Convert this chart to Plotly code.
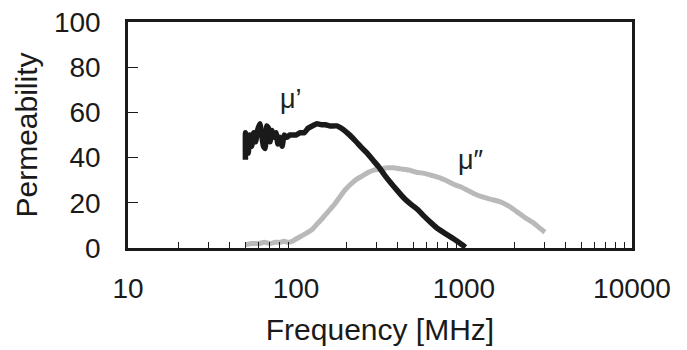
import plotly.graph_objects as go

# mu' (real part)
freq_real = [50, 50, 50.5, 51, 52, 53, 54.5, 56, 57.5, 59, 61, 62.5, 64, 65.5, 67, 68.5, 70, 72,
             74, 76, 78, 80, 82.7, 85, 88, 92, 96, 100, 106, 112, 118,
             125, 133, 142, 150, 160, 175, 190, 205, 225, 245, 265, 290, 310, 335, 365, 400, 440, 480,
             530, 580, 640, 700, 770, 850, 920, 980, 1020]
mu_real = [39, 51, 47, 50, 42, 50, 45, 51, 47, 52, 55, 50, 45, 44, 54, 53, 47, 52,
           49, 51, 46, 49, 45, 50, 49, 50, 50, 50, 51, 51, 53,
           54, 55, 54.5, 54.5, 54, 54, 52.5, 50.5, 47.5, 44.5, 42, 38.5, 36, 32.5, 29, 25.5, 22, 19.5,
           17, 14, 11, 8.5, 6.5, 4.5, 2.8, 1.3, 0.3]

# mu'' (imaginary part)
freq_imag = [50, 55, 60, 65, 70, 75, 80, 85, 90, 95, 100, 106, 112, 118, 126, 135, 145, 155, 166, 180,
             195, 210, 230, 250, 270, 290, 320, 350, 380, 420, 470, 520, 580, 650, 720, 800, 880, 960,
             1050, 1150, 1300, 1450, 1630, 1850, 2070, 2300, 2600, 2800, 3030]
mu_imag = [1.5, 2, 2, 2.5, 2, 2.5, 2.5, 3, 2.5, 3, 4, 5, 6, 7, 8.5, 11, 13.5, 16, 18.5, 22,
           25.5, 28, 30.5, 32, 33.5, 34.5, 35, 35.5, 35.5, 35, 34.5, 33.5, 33, 32, 31, 29.5, 28, 27,
           25.5, 24, 22.5, 21.5, 20.5, 18.5, 16, 13.5, 11, 9, 7]

x_tickvals = [10, 100, 1000, 10000]
x_ticktext = ["10", "100", "1000", "10000"]
x_minor = [m * d for d in (10, 100, 1000) for m in range(2, 10)]
y_tickvals = [0, 20, 40, 60, 80, 100]

FONT = "Liberation Sans, Arial, sans-serif"

fig = go.Figure()
fig.add_trace(go.Scatter(x=freq_imag, y=mu_imag, mode="lines",
                         line=dict(color="#b9b9b9", width=5, shape="spline", smoothing=0.6),
                         showlegend=False))
fig.add_trace(go.Scatter(x=freq_real, y=mu_real, mode="lines",
                         line=dict(color="#1a1a1a", width=5.5, shape="spline", smoothing=0.4),
                         showlegend=False))

fig.add_annotation(x=1.97, y=66, xref="x", yref="y", text="μ’", showarrow=False,
                   font=dict(size=27, color="#222", family=FONT))
fig.add_annotation(x=3.04, y=39, xref="x", yref="y", text="μ″", showarrow=False,
                   font=dict(size=27, color="#222", family=FONT))

fig.update_layout(
    width=687, height=350,
    margin=dict(l=128, r=55, t=22, b=102),
    paper_bgcolor="white", plot_bgcolor="white",
    font=dict(family=FONT, color="#1a1a1a"),
    xaxis=dict(type="log", range=[1, 4], tickmode="array", tickvals=x_tickvals,
               ticktext=x_ticktext, ticks="", showgrid=False, zeroline=False,
               showline=True, linecolor="#1a1a1a", linewidth=2.5, mirror=True,
               tickfont=dict(size=28), ticklabelstandoff=14, automargin=False,
               minor=dict(tickmode="array", tickvals=x_minor, ticks="inside",
                          ticklen=6, tickwidth=1, tickcolor="#1a1a1a", showgrid=False),
               title=dict(text="Frequency [MHz]", font=dict(size=30), standoff=16)),
    yaxis=dict(range=[0, 100], tickmode="array", tickvals=y_tickvals, ticks="inside",
               ticklen=10, tickwidth=1, tickcolor="#1a1a1a", showgrid=False, zeroline=False,
               showline=True, linecolor="#1a1a1a", linewidth=2.5, mirror=True,
               tickfont=dict(size=28), ticklabelstandoff=19, automargin=False,
               title=dict(text="Permeability", font=dict(size=30), standoff=8)),
)

fig.write_html("out.html")
